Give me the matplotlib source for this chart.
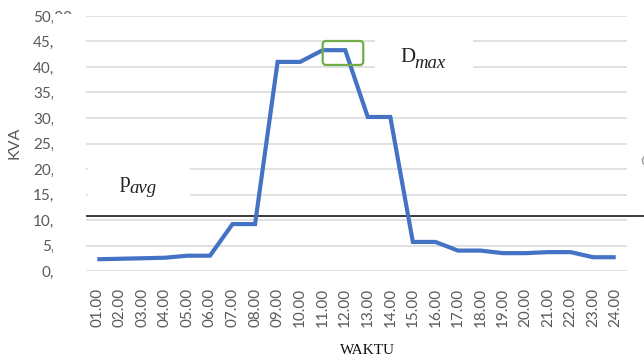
import matplotlib
matplotlib.use("Agg")
import matplotlib.pyplot as plt
from matplotlib.patches import Rectangle, FancyBboxPatch

# Hourly apparent power (kVA) over one day
hours = ["01.00", "02.00", "03.00", "04.00", "05.00", "06.00", "07.00", "08.00",
         "09.00", "10.00", "11.00", "12.00", "13.00", "14.00", "15.00", "16.00",
         "17.00", "18.00", "19.00", "20.00", "21.00", "22.00", "23.00", "24.00"]
kva = [2.3, 2.4, 2.5, 2.6, 3.0, 3.0, 9.2, 9.2, 41.0, 41.0, 43.3, 43.3,
       30.2, 30.2, 5.7, 5.7, 4.0, 4.0, 3.5, 3.5, 3.7, 3.7, 2.7, 2.7]
y_ticks = [0, 5, 10, 15, 20, 25, 30, 35, 40, 45, 50]
y_tick_labels = ["0,00", "5,00", "10,00", "15,00", "20,00", "25,00",
                 "30,00", "35,00", "40,00", "45,00", "50,00"]
p_avg_level = 10.84
peak_box = (10.0, 11.8, 40.4, 45.1)  # x0, x1, y0, y1 around the peak

W, H = 644, 358
TICK_FONT = dict(fontfamily="Lato", fontsize=11, color="#595959")


def fx(px):
    return px / W


def fy(py):
    return 1 - py / H


fig = plt.figure(figsize=(W / 100, H / 100), dpi=100)
fig.patch.set_facecolor("white")
ax = fig.add_axes([fx(86), fy(271), (627 - 86) / W, (271 - 16) / H])

x = list(range(len(hours)))
ax.plot(x, kva, color="#4472C4", lw=3.0, solid_joinstyle="miter",
        solid_capstyle="butt", zorder=4)

ax.set_xlim(-0.5, len(hours) - 0.5)
ax.set_ylim(0, 50)
ax.set_yticks(y_ticks)
ax.set_yticklabels(y_tick_labels, **TICK_FONT)
ax.set_xticks(x)
ax.set_xticklabels(hours, rotation=90, **TICK_FONT)
ax.tick_params(axis="both", length=0)
ax.tick_params(axis="x", pad=12)
for s in ax.spines.values():
    s.set_visible(False)
ax.yaxis.grid(True, color="#d9d9d9", lw=1.1)
ax.set_axisbelow(True)

# average-power reference line, running past the plot edge
ax.axhline(p_avg_level, xmin=0.002, xmax=1.03, color="#3a3a3a", lw=1.4,
           clip_on=False, zorder=3)

# rounded box around the maximum demand
xpx = (627 - 86) / len(hours)
ypx = (271 - 16) / 50
bx0, bx1, by0, by1 = peak_box
ax.add_patch(FancyBboxPatch((bx0, by0), bx1 - bx0, by1 - by0,
                            boxstyle="round,pad=0,rounding_size=0.14",
                            mutation_aspect=xpx / ypx,
                            fc="none", ec="#70AD47", lw=1.6, zorder=5))

# white label boxes over the gridlines
fig.add_artist(Rectangle((fx(88), fy(205)), fx(190) - fx(88), fy(160) - fy(205),
                         transform=fig.transFigure, fc="white", ec="none", zorder=2))
fig.add_artist(Rectangle((fx(375), fy(80)), fx(473) - fx(375), fy(28) - fy(80),
                         transform=fig.transFigure, fc="white", ec="none", zorder=2))
# white strip trimming the decimals of the y labels
fig.add_artist(Rectangle((fx(53), fy(292)), fx(85) - fx(53), fy(14) - fy(292),
                         transform=fig.transFigure, fc="white", ec="none", zorder=10))

# annotations
fig.text(fx(120), fy(187), "p", fontfamily="Liberation Serif", fontsize=15.5,
         color="#222222", va="baseline", zorder=11)
fig.text(fx(129.5), fy(193), "avg", fontfamily="Liberation Serif", style="italic",
         fontsize=13.5, color="#222222", va="baseline", zorder=11)
fig.text(fx(400), fy(62), "D", fontfamily="Liberation Serif", fontsize=15,
         color="#222222", va="baseline", zorder=11)
fig.text(fx(414), fy(68), "max", fontfamily="Liberation Serif", style="italic",
         fontsize=13.5, color="#222222", va="baseline", zorder=11)

fig.text(fx(14), fy(143), "KVA", fontfamily="Lato", fontsize=11.5, color="#595959",
         rotation=90, ha="center", va="center")
fig.text(fx(367), fy(350), "WAKTU", fontfamily="Liberation Serif", fontsize=11,
         color="#111111", ha="center", va="center")
fig.text(fx(640), fy(162), "C", fontfamily="Lato", fontsize=11, color="#9a9a9a",
         ha="left", va="center")

# place the y labels so that the decimals fall under the white strip
renderer = fig.canvas.get_renderer()
probe = fig.text(0, 0, "00", **TICK_FONT)
decimals_w = probe.get_window_extent(renderer).width
probe.remove()
ax_left_px = fx(86) * W
pad_px = ax_left_px - (53 + decimals_w) - 1.3
ax.tick_params(axis="y", pad=pad_px * 72 / 100)

fig.savefig("out.png", dpi=100, facecolor="white")
